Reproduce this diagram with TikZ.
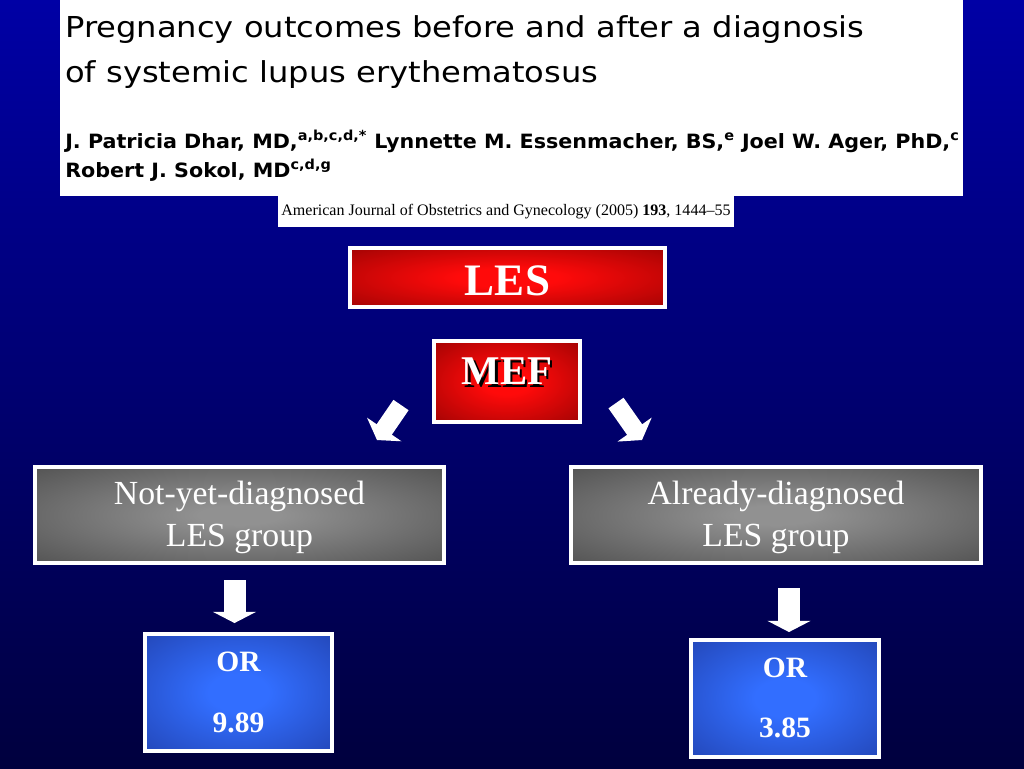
\documentclass[tikz,border=0pt]{standalone}
\usepackage{fontspec}
\setmainfont{Liberation Serif}
\newfontfamily\headfont{DejaVu Sans}
\usetikzlibrary{arrows.meta}

\definecolor{bgtop}{RGB}{0,0,165}
\definecolor{bgbot}{RGB}{0,0,62}
\definecolor{redin}{RGB}{255,10,10}
\definecolor{redout}{RGB}{115,0,0}
\definecolor{grayin}{RGB}{145,145,145}
\definecolor{grayout}{RGB}{55,55,55}
\definecolor{bluein}{RGB}{50,110,255}
\definecolor{blueout}{RGB}{28,52,150}

\pgfdeclareradialshading{redglow}{\pgfpointorigin}{color(0bp)=(redin); color(8bp)=(redin); color(50bp)=(redout)}
\pgfdeclareradialshading{grayglow}{\pgfpointorigin}{color(0bp)=(grayin); color(5bp)=(grayin); color(50bp)=(grayout)}
\pgfdeclareradialshading{blueglow}{\pgfpointorigin}{color(0bp)=(bluein); color(8bp)=(bluein); color(50bp)=(blueout)}

\newcommand\dropshadow[1]{\makebox[0pt][l]{\hspace{0.06cm}\raisebox{-0.06cm}{\color{black}#1}}#1}

\begin{document}
\begin{tikzpicture}[x=0.025cm,y=-0.025cm,>=Latex,
  box/.style={draw=white,line width=0.1cm,align=center,text=white,inner sep=0},
  redbox/.style={box,shading=redglow,font=\bfseries\fontsize{32}{38}\selectfont},
  graybox/.style={box,shading=grayglow,minimum width=10.225cm,minimum height=2.4cm,
    font=\fontsize{24}{30}\selectfont},
  orbox/.style={box,shading=blueglow,minimum width=4.675cm,minimum height=2.925cm,
    font=\bfseries\fontsize{21}{43}\selectfont},
  blockarrow/.style={white,line width=0.55cm,-{Triangle[width=1.07cm,length=0.28cm]}},
  slantarrow/.style={white,line width=0.46cm,-{Triangle[width=1.03cm,length=0.32cm]}}]

% background
\shade[top color=bgtop,bottom color=bgbot] (0,0) rectangle (1024,768);

% article header
\node[fill=white,inner sep=0,minimum width=22.575cm,minimum height=4.9cm] (head) at (511.5,98) {};
\node[anchor=base west,inner sep=0,font=\headfont\fontsize{20.5}{24}\selectfont] (title1) at (65,37)
  {\scalebox{1.115}[1]{Pregnancy outcomes before and after a diagnosis}};
\node[anchor=base west,inner sep=0,font=\headfont\fontsize{20.5}{24}\selectfont] (title2) at (65,82)
  {\scalebox{1.115}[1]{of systemic lupus erythematosus}};
\node[anchor=base west,inner sep=0,font=\headfont\bfseries\fontsize{14}{17}\selectfont] (auth1) at (65,148)
  {\scalebox{1.05}[1]{J. Patricia Dhar, MD,\textsuperscript{a,b,c,d,*} Lynnette M. Essenmacher, BS,\textsuperscript{e} Joel W. Ager, PhD,\textsuperscript{c}}};
\node[anchor=base west,inner sep=0,font=\headfont\bfseries\fontsize{14}{17}\selectfont] (auth2) at (65,177)
  {\scalebox{1.05}[1]{Robert J. Sokol, MD\textsuperscript{c,d,g}}};
\node[fill=white,inner sep=0,minimum width=11.4cm,minimum height=0.775cm,
  font=\fontsize{11.4}{13}\selectfont] (journal) at (506,211.5)
  {American Journal of Obstetrics and Gynecology (2005) \textbf{193}, 1444--55};

% LES and MEF
\node[redbox,minimum width=7.875cm,minimum height=1.475cm,text height=0.925cm] (les) at (507.5,277.5) {LES};
\node[redbox,font=\bfseries\fontsize{29}{34}\selectfont,minimum width=3.65cm,minimum height=2.025cm,
  text depth=0.5cm] (mef) at (507,381.5) {\dropshadow{MEF}};

% the two groups
\node[graybox,text height=1.775cm] (notyet) at (239.5,515) {Not-yet-diagnosed\\LES group};
\node[graybox,text height=1.775cm] (already) at (776,515) {Already-diagnosed\\LES group};

% odds ratios
\node[orbox] (orleft) at (238.5,692.5) {OR\\9.89};
\node[orbox] (orright) at (785,698) {OR\\3.85};

% arrows
\coordinate (sl1) at (401,405);
\coordinate (sl2) at (377,440);
\coordinate (sr1) at (616,403);
\coordinate (sr2) at (642,440);
\draw[slantarrow] (sl1) -- (sl2);
\draw[slantarrow] (sr1) -- (sr2);

\coordinate (dl1) at (234.5,580);
\coordinate (dl2) at (234.5,623);
\coordinate (dr1) at (789,588);
\coordinate (dr2) at (789,632);
\draw[blockarrow] (dl1) -- (dl2);
\draw[blockarrow] (dr1) -- (dr2);

\end{tikzpicture}
\end{document}
